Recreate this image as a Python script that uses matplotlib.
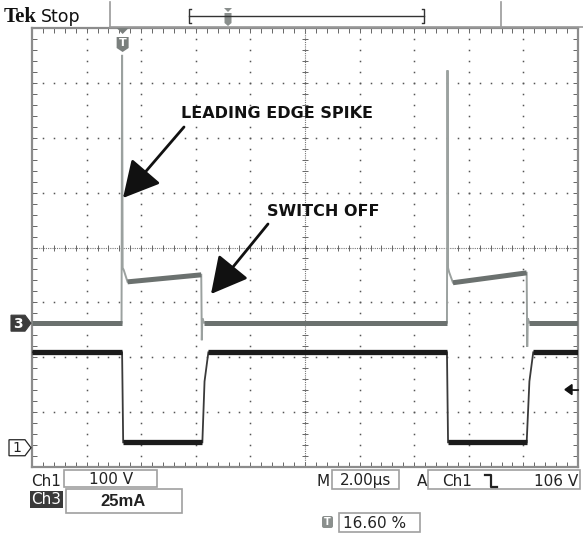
import numpy as np
import matplotlib.pyplot as plt
from matplotlib.patches import Polygon, Rectangle, FancyBboxPatch

# time axis in us, 2 us/div, 10 div
t_per_div = 2.0
# Ch1 (drain voltage), 100 V/div, ground marker offset in div
ch1_scale = 100.0
ch1_gnd = -3.64
ch1_t = [0, 3.30, 3.34, 6.24, 6.32, 6.46, 15.20, 15.24, 18.12, 18.22, 18.36, 20]
ch1_v = [173, 173, 9, 9, 120, 173, 173, 9, 9, 120, 173, 173]

# Ch3 (current), 25 mA/div
ch3_scale = 25.0
ch3_gnd = -1.37
ch3_t = [0, 3.28, 3.30, 3.32, 3.36, 3.50, 6.20, 6.22, 6.24, 6.30,
         15.20, 15.22, 15.24, 15.28, 15.42, 18.12, 18.14, 18.16, 18.22, 20]
ch3_i = [0, 0, 122, 25, 24, 18.6, 21.8, -8, 2, 0,
         0, 115, 25, 23, 18.2, 22.7, -11, 2, 0, 0]

trig_level = 106.0   # V on Ch1
trig_pos = 16.60     # % of record

W, H = 583, 537
fig = plt.figure(figsize=(W / 100, H / 100), dpi=100)
fig.patch.set_facecolor('white')

# graticule axes
x0, x1, y0, y1 = 32, 578, 28, 467
ax = fig.add_axes([x0 / W, (H - y1) / H, (x1 - x0) / W, (y1 - y0) / H])
ax.set_xlim(0, 10 * t_per_div)
ax.set_ylim(-4, 4)
for s in ax.spines.values():
    s.set_color('#8c8c8c')
    s.set_linewidth(1.6)
ax.set_xticks(np.arange(0, 20.01, 0.4))
ax.set_yticks(np.arange(-4, 4.01, 0.2))
ax.tick_params(direction='in', length=3.5, width=0.7, color='#666666',
               top=True, right=True, labelbottom=False, labelleft=False)

grid_dot = dict(ls='none', marker='s', ms=1.1, color='#555555', mew=0)
ys = np.arange(-4, 4.01, 0.2)
for gx in [2, 4, 6, 8, 12, 14, 16, 18]:
    ax.plot(np.full_like(ys, gx), ys, **grid_dot)
xs = np.arange(0, 20.01, 0.4)
for gy in [-3, -2, -1, 1, 2, 3]:
    ax.plot(xs, np.full_like(xs, gy), **grid_dot)
# center cross with ticks
ax.axhline(0, color='#777777', lw=0.8, ls=(0, (1, 1)))
ax.axvline(10, color='#777777', lw=0.8, ls=(0, (1, 1)))
ax.plot(xs, np.zeros_like(xs), ls='none', marker='|', ms=5, mew=0.7, color='#666666')
ax.plot(np.full_like(ys, 10), ys, ls='none', marker='_', ms=5, mew=0.7, color='#666666')


def draw_trace(t, v, scale, gnd, color, edge_color, lw_band, lw_edge):
    t = np.asarray(t, float)
    d = np.asarray(v, float) / scale + gnd
    ax.plot(t, d, color=edge_color, lw=lw_edge, solid_joinstyle='miter', zorder=3)
    for i in range(len(t) - 1):
        if t[i + 1] - t[i] > 0.5:
            ax.plot(t[i:i + 2], d[i:i + 2], color=color, lw=lw_band,
                    solid_capstyle='butt', zorder=4)


draw_trace(ch3_t, ch3_i, ch3_scale, ch3_gnd, '#6b716f', '#9ba19f', 3.6, 1.4)
draw_trace(ch1_t, ch1_v, ch1_scale, ch1_gnd, '#1b1b1b', '#3a3a3a', 3.8, 1.3)

# overlay in pixel coordinates
ov = fig.add_axes([0, 0, 1, 1], zorder=5)
ov.set_xlim(0, W)
ov.set_ylim(H, 0)
ov.axis('off')


def div_to_px(d):
    return 248 - d * (y1 - y0) / 8


# channel ground markers
y3 = div_to_px(ch3_gnd)
ov.add_patch(Polygon([[11, y3 - 8], [25, y3 - 8], [31, y3], [25, y3 + 8], [11, y3 + 8]],
                     closed=True, fc='#3c3c3c', ec='#3c3c3c', lw=0.8))
ov.text(18, y3 + 0.5, '3', color='white', fontsize=10, fontweight='bold',
        ha='center', va='center')
y1m = div_to_px(ch1_gnd)
ov.add_patch(Polygon([[9, y1m - 8], [25, y1m - 8], [31, y1m], [25, y1m + 8], [9, y1m + 8]],
                     closed=True, fc='white', ec='#222222', lw=0.9))
ov.text(17, y1m + 0.5, '1', color='#222222', fontsize=10, ha='center', va='center')

# trigger level arrow on right edge
yt = div_to_px(trig_level / ch1_scale + ch1_gnd)
ov.add_patch(Polygon([[565, yt], [572, yt - 5], [572, yt + 5]], closed=True,
                     fc='#111111', ec='#111111'))
ov.plot([572, 578], [yt, yt], color='#111111', lw=1.2)

# trigger position marker at top
xtp = x0 + (x1 - x0) * trig_pos / 100
ov.add_patch(Polygon([[xtp - 6, 28], [xtp + 6, 28], [xtp, 34]], closed=True,
                     fc='#7a7f7d', ec='none'))
ov.add_patch(Polygon([[xtp - 6, 37], [xtp + 6, 37], [xtp + 6, 48], [xtp, 52], [xtp - 6, 48]],
                     closed=True, fc='#7a7f7d', ec='none'))
ov.text(xtp, 43.5, 'T', color='white', fontsize=8, fontweight='bold',
        ha='center', va='center')

# top status bar
ov.text(4, 22, 'Tek', fontsize=15, fontweight='bold', family='Liberation Serif',
        ha='left', va='baseline', color='#111111')
ov.text(41, 22, 'Stop', fontsize=12.5, ha='left', va='baseline', color='#111111')
ov.plot([110, 110], [2, 27], color='#9a9a9a', lw=1.2)
ov.plot([501, 501], [2, 27], color='#9a9a9a', lw=1.2)
ov.plot([110, W], [27, 27], color='#9a9a9a', lw=1.2)
ov.plot([189, 424], [16, 16], color='#333333', lw=1.0)
ov.plot([191, 189, 189, 191], [9, 9, 23, 23], color='#333333', lw=1.0)
ov.plot([422, 424, 424, 422], [9, 9, 23, 23], color='#333333', lw=1.0)
xr = 189 + (424 - 189) * trig_pos / 100
ov.add_patch(Polygon([[xr - 4, 8], [xr + 4, 8], [xr, 12]], closed=True, fc='#8a8f8d', ec='none'))
ov.add_patch(Polygon([[xr - 3.5, 13], [xr + 3.5, 13], [xr + 3.5, 23], [xr, 26], [xr - 3.5, 23]],
                     closed=True, fc='#8a8f8d', ec='none'))

# annotations
ov.text(181, 113, 'LEADING EDGE SPIKE', fontsize=11.5, fontweight='bold',
        family='DejaVu Sans', ha='left', va='center', color='#111111')
ov.text(267, 211, 'SWITCH OFF', fontsize=11.5, fontweight='bold',
        family='DejaVu Sans', ha='left', va='center', color='#111111')
arrow = dict(arrowstyle='-|>,head_length=1.6,head_width=0.85', mutation_scale=14,
             lw=2.0, color='#111111', shrinkA=0, shrinkB=0)
ov.annotate('', xy=(123, 198), xytext=(184, 127), arrowprops=arrow)
ov.annotate('', xy=(211, 294), xytext=(268, 224), arrowprops=arrow)

# bottom readouts
box_ec = '#a0a0a0'
lab = dict(fontsize=11, color='#222222', va='center')
ov.text(31, 481, 'Ch1', ha='left', **lab)
ov.add_patch(Rectangle((64, 470), 93, 17, fc='none', ec=box_ec, lw=1.2))
ov.text(111, 480, '100 V', ha='center', **lab)
ov.text(316, 481, 'M', ha='left', **lab)
ov.add_patch(Rectangle((332, 470), 67, 19, fc='none', ec=box_ec, lw=1.2))
ov.text(366, 481, '2.00\u00b5s', ha='center', **lab)
ov.text(417, 481, 'A', ha='left', **lab)
ov.add_patch(Rectangle((428, 470), 152, 19, fc='none', ec=box_ec, lw=1.2))
ov.text(442, 481, 'Ch1', ha='left', **lab)
ov.plot([485, 491, 491, 497], [475, 475, 487, 487], color='#222222', lw=1.6)
ov.text(578, 481, '106 V', ha='right', **lab)

ov.add_patch(Rectangle((30, 491), 33, 17, fc='#3a3a3a', ec='none'))
ov.text(46.5, 499.5, 'Ch3', ha='center', fontsize=11, color='white', va='center')
ov.add_patch(Rectangle((66, 489), 116, 24, fc='none', ec=box_ec, lw=1.2))
ov.text(123, 501, '25mA', ha='center', fontsize=12, fontweight='bold',
        family='Liberation Sans', color='#222222', va='center')

ov.add_patch(FancyBboxPatch((322, 516), 11, 12, boxstyle='round,pad=0,rounding_size=2',
                            fc='#8a8f8d', ec='none'))
ov.text(327.5, 522, 'T', color='white', fontsize=7, fontweight='bold', ha='center', va='center')
ov.add_patch(Rectangle((339, 513), 81, 19, fc='none', ec=box_ec, lw=1.2))
ov.text(343, 523, f'{trig_pos:.2f} %', ha='left', **lab)

fig.savefig('out.png', dpi=100)
